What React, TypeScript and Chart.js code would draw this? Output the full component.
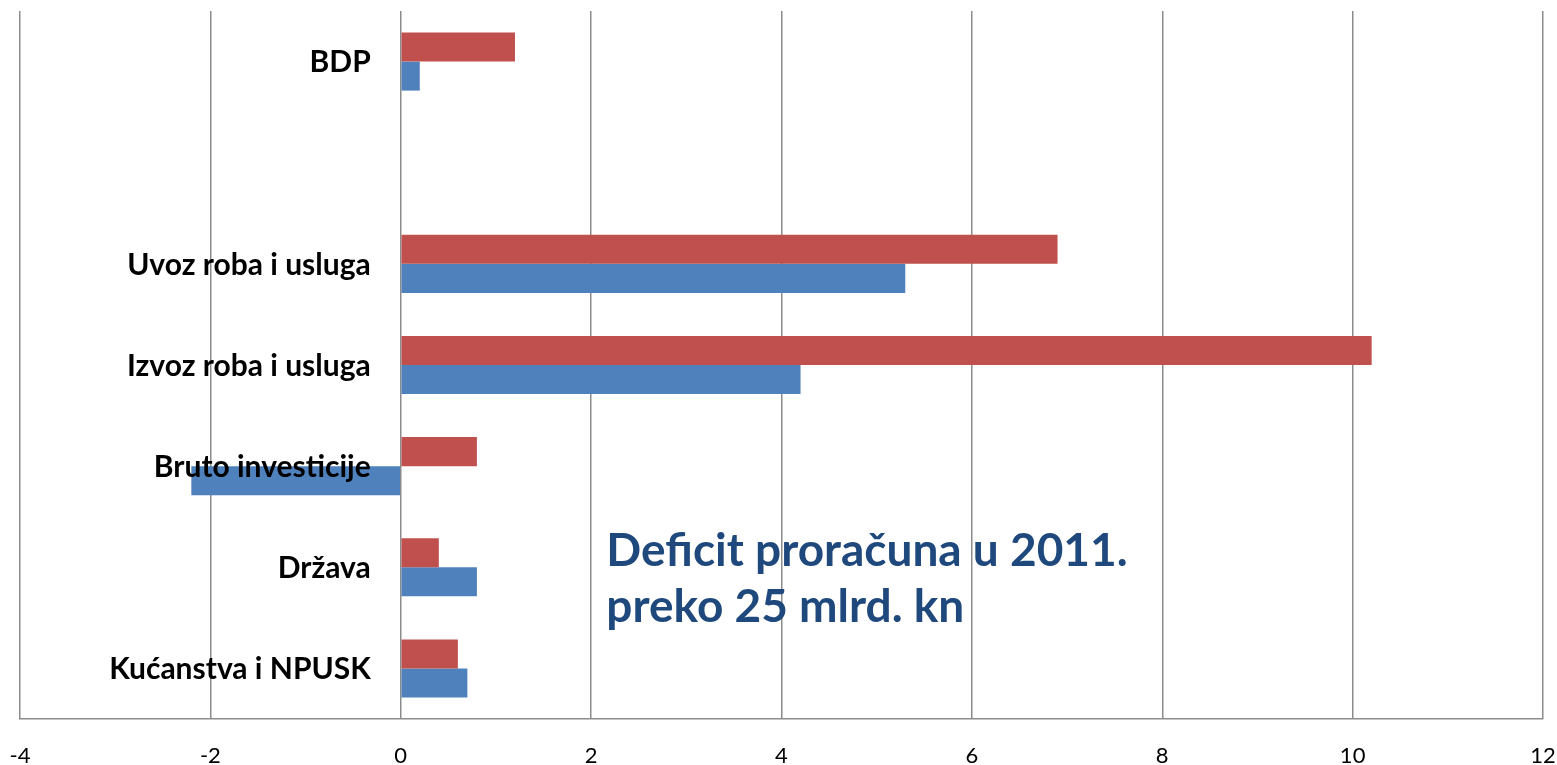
import React, { useEffect, useRef } from "react";
import { Chart, registerables } from "chart.js";

Chart.register(...registerables);

const categories = [
  "BDP",
  "",
  "Uvoz roba i usluga",
  "Izvoz roba i usluga",
  "Bruto investicije",
  "Država",
  "Kućanstva i NPUSK",
];
const redValues = [1.2, null, 6.9, 10.2, 0.8, 0.4, 0.6];
const blueValues = [0.2, null, 5.3, 4.2, -2.2, 0.8, 0.7];
const xMin = -4;
const xMax = 12;
const xStep = 2;
const noteLines = ["Deficit proračuna u 2011.", "preko 25 mlrd. kn"];
const noteX = 2.16;

const labelPlugin = {
  id: "catLabels",
  afterDatasetsDraw(chart: any) {
    const { ctx, scales } = chart;
    const xs = scales.x;
    const ys = scales.y;
    const x0 = xs.getPixelForValue(0) - 30;
    ctx.save();
    ctx.fillStyle = "#000";
    ctx.font = "bold 30px Lato";
    ctx.textAlign = "right";
    ctx.textBaseline = "middle";
    categories.forEach((c, i) => {
      if (!c) return;
      ctx.fillText(c, x0, ys.getPixelForTick(i) + 1);
    });
    ctx.restore();
  },
  afterDraw(chart: any) {
    const { ctx, scales } = chart;
    const xs = scales.x;
    const ys = scales.y;
    const x = xs.getPixelForValue(noteX);
    const yMid = (ys.getPixelForValue(4) + ys.getPixelForValue(5)) / 2;
    ctx.save();
    ctx.fillStyle = "#1F497D";
    ctx.font = "bold 46px Lato";
    ctx.textAlign = "left";
    ctx.textBaseline = "alphabetic";
    ctx.fillText(noteLines[0], x, yMid + 49);
    ctx.fillText(noteLines[1], x, yMid + 105);
    ctx.restore();
  },
};

export default function App() {
  const ref = useRef<HTMLCanvasElement | null>(null);
  useEffect(() => {
    document.body.style.margin = "0";
    const chart = new Chart(ref.current!, {
      type: "bar",
      data: {
        labels: categories,
        datasets: [
          {
            data: redValues as any,
            backgroundColor: "#C0504D",
            borderWidth: 0,
            categoryPercentage: 0.574,
            barPercentage: 1,
          },
          {
            data: blueValues as any,
            backgroundColor: "#4F81BD",
            borderWidth: 0,
            categoryPercentage: 0.574,
            barPercentage: 1,
          },
        ],
      },
      options: {
        indexAxis: "y",
        animation: false,
        responsive: false,
        layout: { padding: { left: 20, right: 14, top: 11, bottom: 0 } },
        plugins: { legend: { display: false }, tooltip: { enabled: false } },
        scales: {
          x: {
            type: "linear",
            min: xMin,
            max: xMax,
            ticks: {
              stepSize: xStep,
              color: "#000",
              font: { family: "Lato", size: 22 },
              padding: 24,
            },
            grid: {
              color: "#8c8c8c",
              lineWidth: 1.5,
              drawTicks: false,
            },
            border: { display: true, color: "#8c8c8c", width: 1.5 },
            afterFit: (s: any) => {
              s.height = 46;
              s.paddingLeft = 0;
              s.paddingRight = 0;
            },
          },
          y: {
            type: "category",
            position: "left",
            offset: true,
            ticks: { display: false },
            grid: { display: false, drawTicks: false },
            border: { display: false },
            afterFit: (s: any) => {
              s.width = 0;
            },
          },
        },
      },
      plugins: [labelPlugin],
    });
    return () => chart.destroy();
  }, []);
  return (
    <canvas
      ref={ref}
      width={1557}
      height={765}
      style={{ display: "block", width: 1557, height: 765 }}
    />
  );
}
